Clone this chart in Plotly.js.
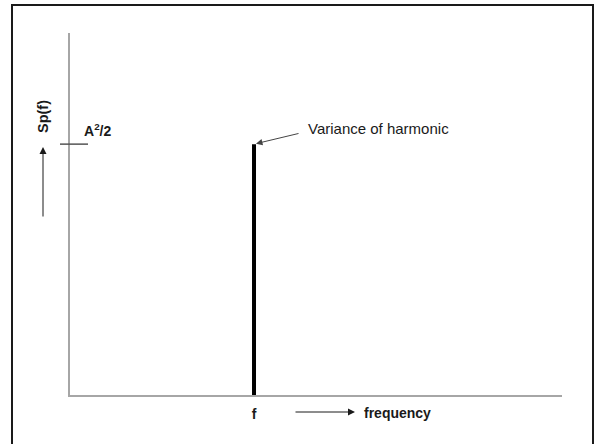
<!DOCTYPE html>
<html>
<head>
<meta charset="utf-8">
<script src="https://cdn.plot.ly/plotly-3.0.1.min.js"></script>
<style>html,body{margin:0;padding:0;background:#fff;}#chart{width:596px;height:444px;}</style>
</head>
<body>
<div id="chart"></div>
<script>
// Data (arbitrary units)
const xRange = [0, 10];          // frequency axis
const yRange = [0, 10];          // spectral density axis
const harmonicFreq = [3.74];     // f
const harmonicVar = [6.93];      // A^2/2
const xTickLabels = ['f'];
const yTickLabels = ['A<sup>2</sup>/2'];

const W = 596, H = 444;
const M = {l: 70, r: 34, t: 33, b: 49};
const pw = W - M.l - M.r, ph = H - M.t - M.b;
const px = v => (v - M.l) / pw;          // pixel x -> paper x
const py = v => (H - M.b - v) / ph;      // pixel y -> paper y

const font = 'Liberation Sans, Arial, sans-serif';
const ink = '#1a1a1a';
const axisGray = '#a6a6a6';

const traces = [{
  type: 'scatter', mode: 'lines',
  x: [harmonicFreq[0], harmonicFreq[0]],
  y: [0, harmonicVar[0]],
  line: {color: '#000', width: 4},
  cliponaxis: false, hoverinfo: 'skip', showlegend: false
}];

const layout = {
  width: W, height: H,
  margin: M,
  paper_bgcolor: '#fff', plot_bgcolor: '#fff',
  showlegend: false,
  xaxis: {
    range: xRange, showgrid: false, zeroline: false,
    showline: true, linecolor: axisGray, linewidth: 2,
    tickvals: harmonicFreq, ticktext: xTickLabels, ticks: '',
    ticklabelstandoff: 5,
    tickfont: {family: font, size: 14, color: ink, weight: 'bold'}
  },
  yaxis: {
    range: yRange, showgrid: false, zeroline: false,
    showline: true, linecolor: axisGray, linewidth: 2,
    showticklabels: false, ticks: ''
  },
  shapes: [
    {type: 'path', xref: 'paper', yref: 'paper',
     path: `M ${px(12)} ${py(470)} L ${px(12)} ${py(5)} L ${px(593)} ${py(5)} L ${px(593)} ${py(470)}`,
     line: {color: ink, width: 2}},
    {type: 'line', xref: 'paper', yref: 'y',
     x0: px(60), x1: px(88), y0: harmonicVar[0], y1: harmonicVar[0],
     line: {color: '#555', width: 1.5}}
  ],
  annotations: [
    {xref: 'paper', yref: 'paper', x: px(43), y: py(117), xanchor: 'center', yanchor: 'middle',
     text: '<b>Sp(f)</b>', textangle: -90, showarrow: false,
     font: {family: font, size: 14.5, color: ink}},
    {xref: 'paper', yref: 'paper', x: px(43), y: py(147), text: '',
     showarrow: true, ax: 0, ay: 71, arrowhead: 2, arrowsize: 1.4, arrowwidth: 1, arrowcolor: ink},
    {xref: 'paper', yref: 'paper', x: px(82), y: py(130), xanchor: 'left', yanchor: 'middle',
     text: '<b>' + yTickLabels[0] + '</b>', showarrow: false,
     font: {family: font, size: 14, color: ink}},
    {xref: 'paper', yref: 'paper', x: px(355), y: py(412), text: '',
     showarrow: true, ax: -61, ay: 0, arrowhead: 2, arrowsize: 1.4, arrowwidth: 1, arrowcolor: ink},
    {xref: 'paper', yref: 'paper', x: px(362), y: py(413), xanchor: 'left', yanchor: 'middle',
     text: '<b>frequency</b>', showarrow: false, font: {family: font, size: 14, color: ink}},
    {xref: 'x', yref: 'y', x: harmonicFreq[0], y: harmonicVar[0], text: '',
     showarrow: true, ax: 46, ay: -11, standoff: 2, arrowhead: 2, arrowsize: 1.3, arrowwidth: 1, arrowcolor: '#444'},
    {xref: 'paper', yref: 'paper', x: px(306), y: py(128), xanchor: 'left', yanchor: 'middle',
     text: 'Variance of harmonic', showarrow: false, font: {family: font, size: 15, color: ink}}
  ]
};

Plotly.newPlot('chart', traces, layout, {staticPlot: true, displayModeBar: false});
</script>
</body>
</html>
